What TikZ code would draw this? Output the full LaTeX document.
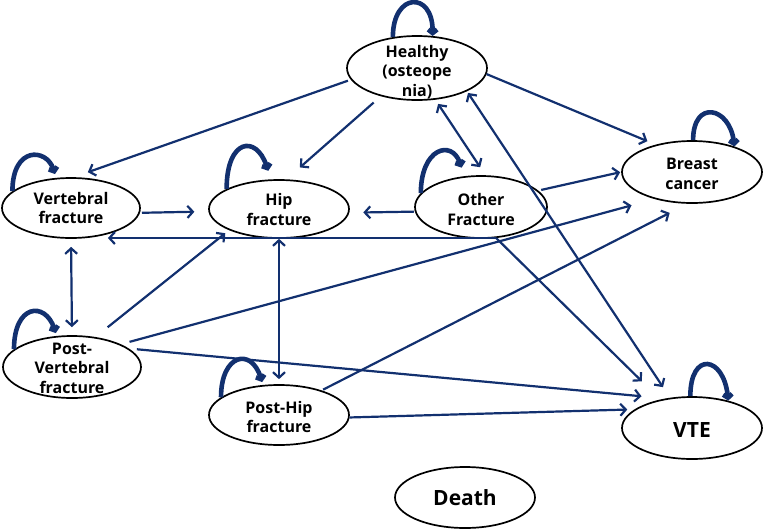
\documentclass[tikz,border=0pt]{standalone}
\usepackage{fontspec}
\setmainfont{Open Sans}
\usetikzlibrary{arrows.meta,shapes.geometric}
\definecolor{navy}{HTML}{12306F}
\tikzset{
  st/.style={ellipse, draw=black, line width=1.7pt, inner sep=0pt},
  lab/.style={align=center, text=black, inner sep=0pt, font=\bfseries\fontsize{16}{19.5}\selectfont},
  biglab/.style={align=center, text=black, inner sep=0pt, font=\bfseries\fontsize{21}{24}\selectfont},
  tr/.style={draw=navy, line width=2.2pt, -{Straight Barb[length=5.5pt,width=12pt]}},
  dtr/.style={draw=navy, line width=2.2pt, {Straight Barb[length=5.5pt,width=12pt]}-{Straight Barb[length=5.5pt,width=12pt]}},
  lp/.style={draw=navy, line width=4.6pt, -{Straight Barb[length=3.5pt,width=9pt]}}
}
\begin{document}
\begin{tikzpicture}[x=1pt,y=-1pt]
\useasboundingbox (0,0) rectangle (764,531);
% states
\node[st, minimum width=140pt, minimum height=64pt] (H) at (417,68) {};
\node[st, minimum width=138pt, minimum height=60pt] (V) at (71,208) {};
\node[st, minimum width=140pt, minimum height=58pt] (Hip) at (279,209) {};
\node[st, minimum width=132pt, minimum height=62pt] (O) at (481,207) {};
\node[st, minimum width=140pt, minimum height=62pt] (B) at (692,172) {};
\node[st, minimum width=138pt, minimum height=62pt] (PV) at (72,367) {};
\node[st, minimum width=140pt, minimum height=60pt] (PH) at (279,415) {};
\node[st, minimum width=140pt, minimum height=62pt] (VTE) at (692,428) {};
\node[st, minimum width=140pt, minimum height=61pt] (D) at (465,497.5) {};
% labels
\node[lab] (Ht) at (417,72) {Healthy\\(osteope\\nia)};
\node[lab] (Vt) at (71,208) {Vertebral\\fracture};
\node[lab] (Hipt) at (279,209.5) {Hip\\fracture};
\node[lab] (Ot) at (481,209.5) {Other\\Fracture};
\node[lab] (Bt) at (692,174) {Breast\\cancer};
\node[lab] (PVt) at (72,368) {Post-\\Vertebral\\fracture};
\node[lab] (PHt) at (279,417) {Post-Hip\\fracture};
\node[biglab] (VTEt) at (692,430) {VTE};
\node[biglab] (Dt) at (465,498) {Death};
% transitions
\draw[tr, shorten <=3pt, shorten >=15pt] (H.190) -- (V.85);
\draw[tr, shorten <=9.5pt, shorten >=18pt] (H.218.4) -- (Hip.76);
\draw[dtr, shorten <=5pt, shorten >=9.6pt] (H.300.7) -- (O.82.3);
\draw[dtr, shorten <=2pt, shorten >=12.7pt] (H.335.8) -- (VTE.126.9);
\draw[tr, shorten >=9pt] (H.355.8) -- (B.143.5);
\draw[tr, shorten <=2pt, shorten >=14pt] (V.356.7) -- (Hip.182.5);
\draw[tr, shorten <=1pt, shorten >=14pt] (O.184.4) -- (Hip.357.5);
\draw[tr, shorten >=19pt] (O.296.6) -- (V.301.4 |- O.296.6);
\draw[tr, shorten >=26pt] (O.296.6) -- (VTE.138.6);
\draw[dtr, shorten <=8pt, shorten >=8pt] (V.south) -- (PV.north);
\draw[dtr, shorten <=0pt, shorten >=5pt] (Hip.south) -- (PH.north);
\draw[tr, shorten <=15.6pt, shorten >=4.9pt] (PV.52.1) -- (Hip.203.5);
\draw[tr, shorten <=9pt, shorten >=24pt] (PV.25.6) -- (B.216.7);
\draw[tr, shorten <=8pt, shorten >=24pt] (PV.18.9) -- (VTE.132.4);
\draw[tr, shorten <=1.6pt, shorten >=20pt] (PH.30.3) -- (B.262.1);
\draw[tr, shorten >=7.3pt] (PH.358.3) -- (VTE.162.2);
\draw[tr, shorten <=3pt, shorten >=1pt] (O.16.3) -- (B.180.8);
% self loops
\draw[lp] (H.128.7) .. controls +(0,-45) and +(0,-45) .. (H.64.2);
\draw[lp, shorten >=4pt] (V.164.8) .. controls +(0,-45) and +(-10,-30) .. (V.116);
\draw[lp, shorten >=9pt] (Hip.159) .. controls +(0,-50) and +(-15,-45) .. (Hip.105.8);
\draw[lp, shorten >=9pt] (O.167) .. controls +(0,-45) and +(-13,-37) .. (O.118.3);
\draw[lp] (B.88) .. controls +(0,-41) and +(-5,-40) .. (B.31);
\draw[lp, shorten >=3pt] (PV.163.9) .. controls +(0,-45) and +(-12,-35) .. (PV.116.6);
\draw[lp, shorten >=3pt] (PH.163.9) .. controls +(0,-43) and +(-12,-38) .. (PH.118);
\draw[lp] (VTE.93) .. controls +(0,-45) and +(-5,-45) .. (VTE.37);
\end{tikzpicture}
\end{document}
